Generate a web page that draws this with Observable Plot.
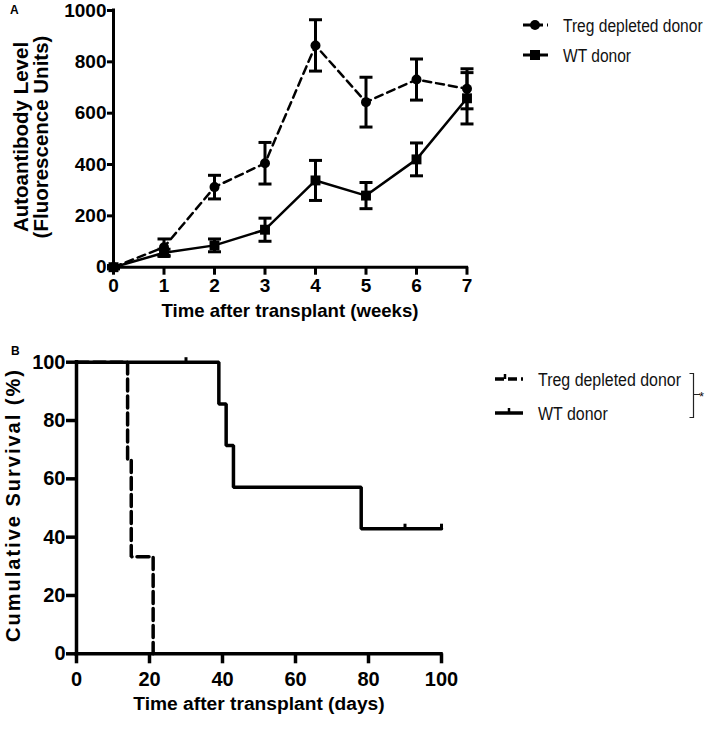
<!DOCTYPE html>
<html><head><meta charset="utf-8">
<script src="https://cdn.jsdelivr.net/npm/d3@7"></script>
<script src="https://cdn.jsdelivr.net/npm/@observablehq/plot@0.6"></script>
<style>
body{margin:0;background:#fff;}
#wrap{position:relative;width:709px;height:732px;overflow:hidden;}
#wrap > svg{position:absolute;}
</style></head>
<body><div id="wrap"></div>
<script>
// ---- Panel A data ----
const weeks = [0, 1, 2, 3, 4, 5, 6, 7];
const tregMean = [0, 78, 312, 405, 864, 643, 731, 695];
const tregErr  = [6, 32, 46, 81, 100, 97, 80, 78];
const wtMean   = [0, 56, 85, 146, 338, 279, 420, 658];
const wtErr    = [6, 14, 25, 45, 78, 51, 64, 100];
const yTicksA  = [0, 200, 400, 600, 800, 1000];

// ---- Panel B data ----
const tregDays = [0, 14, 15, 21];
const tregSurv = [100, 66.7, 33.3, 0];
const wtDays   = [0, 39, 41, 43, 78, 100];
const wtSurv   = [100, 85.7, 71.4, 57.1, 42.9, 42.9];
const wtCensorDays = [30, 90, 100];
const wtCensorSurv = [100, 42.9, 42.9];
const ticksB = [0, 20, 40, 60, 80, 100];

const labels = {
  treg: "Treg depleted donor",
  wt: "WT donor",
  xA: "Time after transplant (weeks)",
  yA1: "Autoantibody Level",
  yA2: "(Fluorescence Units)",
  xB: "Time after transplant (days)",
  yB: "Cumulative Survival (%)"
};

const tregA = weeks.map((w, i) => ({week: w, mean: tregMean[i], err: tregErr[i]}));
const wtA = weeks.map((w, i) => ({week: w, mean: wtMean[i], err: wtErr[i]}));
const tregB = tregDays.map((d, i) => ({day: d, s: tregSurv[i]}));
const wtB = wtDays.map((d, i) => ({day: d, s: wtSurv[i]}));
const wtC = wtCensorDays.map((d, i) => ({day: d, s: wtCensorSurv[i]}));

const FONT = "'Liberation Sans', Arial, Helvetica, sans-serif";
const fmt = d => String(d);
const capSym = {draw(ctx) { ctx.moveTo(-6.5, 0); ctx.lineTo(6.5, 0); }};
const upTick = {draw(ctx) { ctx.moveTo(0, 0); ctx.lineTo(0, -5); }};

const plotA = Plot.plot({
  width: 709, height: 330,
  marginLeft: 113, marginRight: 242.5, marginTop: 10, marginBottom: 63.3,
  x: {domain: [0, 7]},
  y: {domain: [0, 1000]},
  style: {fontFamily: FONT, background: "transparent", color: "#000", overflow: "visible"},
  marks: [
    Plot.axisX({ticks: weeks, tickSize: 8, tickPadding: 3, strokeWidth: 3, fontSize: 19, fontWeight: "bold", label: null, tickFormat: fmt}),
    Plot.axisY({ticks: yTicksA, tickSize: 6, tickPadding: 1, strokeWidth: 3, fontSize: 19, fontWeight: "bold", label: null, tickFormat: fmt}),
    Plot.ruleY([0], {strokeWidth: 3, strokeLinecap: "square"}),
    Plot.ruleX([0], {strokeWidth: 3, strokeLinecap: "square"}),
    Plot.line(tregA, {x: "week", y: "mean", stroke: "black", strokeWidth: 2.5, strokeDasharray: "8,5"}),
    Plot.line(wtA, {x: "week", y: "mean", stroke: "black", strokeWidth: 2.5}),
    Plot.ruleX(tregA, {x: "week", y1: d => d.mean - d.err, y2: d => d.mean + d.err, strokeWidth: 3}),
    Plot.ruleX(wtA, {x: "week", y1: d => d.mean - d.err, y2: d => d.mean + d.err, strokeWidth: 3}),
    Plot.dot(tregA, {x: "week", y: d => d.mean + d.err, symbol: capSym, stroke: "black", strokeWidth: 3, fill: "none"}),
    Plot.dot(tregA, {x: "week", y: d => d.mean - d.err, symbol: capSym, stroke: "black", strokeWidth: 3, fill: "none"}),
    Plot.dot(wtA, {x: "week", y: d => d.mean + d.err, symbol: capSym, stroke: "black", strokeWidth: 3, fill: "none"}),
    Plot.dot(wtA, {x: "week", y: d => d.mean - d.err, symbol: capSym, stroke: "black", strokeWidth: 3, fill: "none"}),
    Plot.dot(tregA, {x: "week", y: "mean", r: 5, fill: "black", stroke: "none"}),
    Plot.dot(wtA, {x: "week", y: "mean", r: 5.6, symbol: "square", fill: "black", stroke: "none"})
  ]
});

const plotB = Plot.plot({
  width: 709, height: 402,
  marginLeft: 76, marginRight: 268, marginTop: 31.7, marginBottom: 78.7,
  x: {domain: [0, 100]},
  y: {domain: [0, 100]},
  style: {fontFamily: FONT, background: "transparent", color: "#000", overflow: "visible"},
  marks: [
    Plot.axisX({ticks: ticksB, tickSize: 10, tickPadding: 8, strokeWidth: 3.5, fontSize: 20, fontWeight: "bold", label: null, tickFormat: fmt}),
    Plot.axisY({ticks: ticksB, tickSize: 10, tickPadding: 1, strokeWidth: 3.5, fontSize: 20, fontWeight: "bold", label: null, tickFormat: fmt}),
    Plot.ruleY([0], {strokeWidth: 3.5, strokeLinecap: "square"}),
    Plot.ruleX([0], {strokeWidth: 3.5, strokeLinecap: "square"}),
    Plot.line(tregB, {x: "day", y: "s", curve: "step-after", stroke: "black", strokeWidth: 3.5, strokeDasharray: "12,5", strokeLinejoin: "miter"}),
    Plot.line(wtB, {x: "day", y: "s", curve: "step-after", stroke: "black", strokeWidth: 3.5, strokeLinejoin: "miter"}),
    Plot.dot(wtC, {x: "day", y: "s", symbol: upTick, stroke: "black", strokeWidth: 3, fill: "none"})
  ]
});

const wrap = document.getElementById("wrap");
plotA.style.left = "0px"; plotA.style.top = "0px";
plotB.style.left = "0px"; plotB.style.top = "330px";
wrap.appendChild(plotA);
wrap.appendChild(plotB);

// Overlay: titles, panel letters, legends
const ov = d3.select(wrap).append("svg")
  .attr("width", 709).attr("height", 732)
  .style("left", "0px").style("top", "0px")
  .attr("font-family", FONT);

ov.append("text").attr("x", 10).attr("y", 14).attr("font-size", 12).attr("font-weight", "bold").text("A");
ov.append("text").attr("x", 11).attr("y", 355).attr("font-size", 12).attr("font-weight", "bold").text("B");

ov.append("text").attr("x", 290).attr("y", 316.7).attr("text-anchor", "middle")
  .attr("font-size", 18.6).attr("font-weight", "bold").text(labels.xA);
ov.append("text").attr("transform", "translate(28,137) rotate(-90)").attr("text-anchor", "middle")
  .attr("font-size", 20.5).attr("font-weight", "bold").text(labels.yA1);
ov.append("text").attr("transform", "translate(48,137) rotate(-90)").attr("text-anchor", "middle")
  .attr("font-size", 20.5).attr("font-weight", "bold").text(labels.yA2);

ov.append("text").attr("x", 259).attr("y", 710).attr("text-anchor", "middle")
  .attr("font-size", 19.2).attr("font-weight", "bold").text(labels.xB);
ov.append("text").attr("transform", "translate(20,505) rotate(-90)").attr("text-anchor", "middle")
  .attr("font-size", 20).attr("font-weight", "bold").attr("letter-spacing", 2).text(labels.yB);

// legend text helper: condensed (narrow) face via horizontal scaling
function legendText(x, y, sx, str) {
  ov.append("text").attr("transform", `translate(${x},${y}) scale(${sx},1)`)
    .attr("font-size", 19).attr("fill", "#111").text(str);
}

// Legend A
ov.append("line").attr("x1", 523).attr("x2", 548).attr("y1", 25).attr("y2", 25)
  .attr("stroke", "black").attr("stroke-width", 3).attr("stroke-dasharray", "8,4");
ov.append("circle").attr("cx", 535).attr("cy", 25).attr("r", 5).attr("fill", "black");
ov.append("line").attr("x1", 523).attr("x2", 548).attr("y1", 55).attr("y2", 55)
  .attr("stroke", "black").attr("stroke-width", 3);
ov.append("rect").attr("x", 530).attr("y", 50).attr("width", 10).attr("height", 10).attr("fill", "black");
legendText(563, 32, 0.82, labels.treg);
legendText(563, 62, 0.82, labels.wt);

// Legend B
ov.append("line").attr("x1", 495).attr("x2", 523).attr("y1", 379).attr("y2", 379)
  .attr("stroke", "black").attr("stroke-width", 3.5).attr("stroke-dasharray", "9,4");
ov.append("line").attr("x1", 505).attr("x2", 505).attr("y1", 379).attr("y2", 374)
  .attr("stroke", "black").attr("stroke-width", 2.5);
ov.append("line").attr("x1", 495).attr("x2", 523).attr("y1", 413).attr("y2", 413)
  .attr("stroke", "black").attr("stroke-width", 3.5);
ov.append("line").attr("x1", 509).attr("x2", 509).attr("y1", 413).attr("y2", 408)
  .attr("stroke", "black").attr("stroke-width", 2.5);
legendText(538, 386, 0.84, labels.treg);
legendText(538, 420, 0.84, labels.wt);
ov.append("path").attr("d", "M689.5,373.5H693.5V417.5H689.5M693.5,394.5H700")
  .attr("fill", "none").attr("stroke", "#222").attr("stroke-width", 1.2);
ov.append("text").attr("x", 699).attr("y", 401).attr("font-size", 13).attr("fill", "#111").text("*");
</script>
</body></html>
